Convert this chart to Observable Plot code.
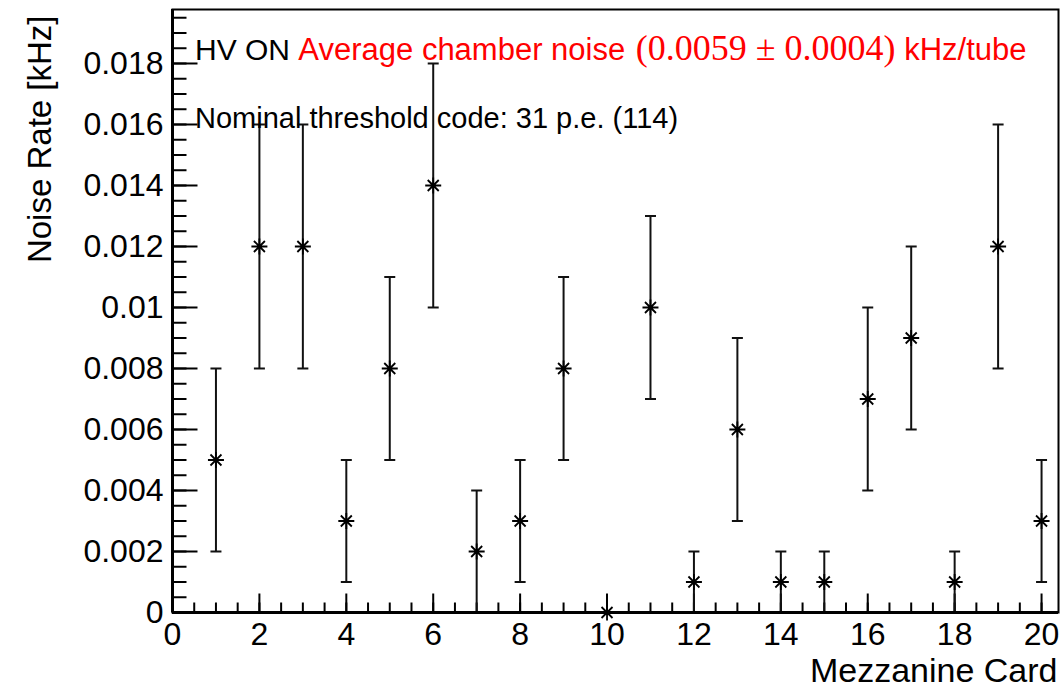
<!DOCTYPE html>
<html>
<head>
<meta charset="utf-8">
<script src="https://cdn.jsdelivr.net/npm/d3@7"></script>
<script src="https://cdn.jsdelivr.net/npm/@observablehq/plot@0.6"></script>
<style>
  html, body { margin: 0; padding: 0; background: #fff; }
</style>
</head>
<body>
<div id="chart"></div>
<script>
// Noise rate per mezzanine card, HV on
const cards = [1, 2, 3, 4, 5, 6, 7, 8, 9, 10, 11, 12, 13, 14, 15, 16, 17, 18, 19, 20];
const noiseRate = [0.005, 0.012, 0.012, 0.003, 0.008, 0.014, 0.002, 0.003, 0.008, 0.000,
                   0.010, 0.001, 0.006, 0.001, 0.001, 0.007, 0.009, 0.001, 0.012, 0.003];
const noiseErr  = [0.003, 0.004, 0.004, 0.002, 0.003, 0.004, 0.002, 0.002, 0.003, 0.000,
                   0.003, 0.001, 0.003, 0.001, 0.001, 0.003, 0.003, 0.001, 0.004, 0.002];
const averageErr = 0.0004;

const xTicks = [0, 2, 4, 6, 8, 10, 12, 14, 16, 18, 20];
const xTickLabels = ["0", "2", "4", "6", "8", "10", "12", "14", "16", "18", "20"];
const yTicks = [0, 0.002, 0.004, 0.006, 0.008, 0.010, 0.012, 0.014, 0.016, 0.018];
const yTickLabels = ["0", "0.002", "0.004", "0.006", "0.008", "0.01", "0.012", "0.014", "0.016", "0.018"];
const xMinorTicks = d3.range(0, 20.001, 0.5);
const yMinorTicks = d3.range(0, 0.01951, 0.0005);

const xTitle = "Mezzanine Card";
const yTitle = "Noise Rate [kHz]";
const thresholdNote = "Nominal threshold code: 31 p.e. (114)";

const rows = cards.map((card, i) => ({card, rate: noiseRate[i], err: noiseErr[i]}));
const withErr = rows.filter(d => d.err > 0);

const W = 1063, H = 691;
const M = {top: 9, right: 5, bottom: 79, left: 172};
const SANS = "'Liberation Sans', Arial, Helvetica, sans-serif";
const SERIF = "'Liberation Serif', 'Times New Roman', serif";

// Stroke-only symbols: inward axis ticks, error-bar caps and the star marker
const tickUp = len => ({draw(ctx) { ctx.moveTo(0, 0); ctx.lineTo(0, -len); }});
const tickRight = len => ({draw(ctx) { ctx.moveTo(0, 0); ctx.lineTo(len, 0); }});
const cap = half => ({draw(ctx) { ctx.moveTo(-half, 0); ctx.lineTo(half, 0); }});
const star = {
  draw(ctx) {
    const r = 8, d = 5.5;
    ctx.moveTo(-r, 0); ctx.lineTo(r, 0);
    ctx.moveTo(0, -r); ctx.lineTo(0, r);
    ctx.moveTo(-d, -d); ctx.lineTo(d, d);
    ctx.moveTo(-d, d); ctx.lineTo(d, -d);
  }
};

const strokeOnly = {fill: "none", stroke: "black"};

const plot = Plot.plot({
  width: W,
  height: H,
  marginTop: M.top,
  marginRight: M.right,
  marginBottom: M.bottom,
  marginLeft: M.left,
  style: {fontFamily: SANS, background: "white", overflow: "visible"},
  x: {domain: [0, 20.39]},
  y: {domain: [0, 0.01977]},
  marks: [
    // minor and major ticks pointing into the frame
    Plot.dot(xMinorTicks, {x: d => d, frameAnchor: "bottom", symbol: tickUp(10), strokeWidth: 2, ...strokeOnly}),
    Plot.dot(xTicks, {x: d => d, frameAnchor: "bottom", symbol: tickUp(19), strokeWidth: 2, ...strokeOnly}),
    Plot.dot(yMinorTicks, {y: d => d, frameAnchor: "left", symbol: tickRight(14), strokeWidth: 2, ...strokeOnly}),
    Plot.dot(yTicks, {y: d => d, frameAnchor: "left", symbol: tickRight(25), strokeWidth: 2, ...strokeOnly}),

    // tick labels
    Plot.axisX(xTicks, {
      tickSize: 0, tickPadding: 10, fontSize: 32, label: null,
      tickFormat: d => xTickLabels[xTicks.indexOf(d)]
    }),
    Plot.axisY(yTicks, {
      tickSize: 0, tickPadding: 9, fontSize: 32, label: null,
      tickFormat: d => yTickLabels[yTicks.indexOf(d)]
    }),

    // error bars with end caps
    Plot.ruleX(withErr, {x: "card", y1: d => d.rate - d.err, y2: d => d.rate + d.err, stroke: "#111", strokeWidth: 2}),
    Plot.dot(withErr, {x: "card", y: d => d.rate + d.err, symbol: cap(5.5), stroke: "#111", strokeWidth: 2, fill: "none"}),
    Plot.dot(withErr, {x: "card", y: d => d.rate - d.err, symbol: cap(5.5), stroke: "#111", strokeWidth: 2, fill: "none"}),

    // star markers
    Plot.dot(rows, {x: "card", y: "rate", symbol: star, strokeWidth: 1.8, ...strokeOnly}),
    Plot.dot(rows, {x: "card", y: "rate", r: 2, fill: "black"}),

    // frame, heavier along the axes
    Plot.frame({stroke: "black", strokeWidth: 2}),
    Plot.ruleY([0], {stroke: "black", strokeWidth: 3}),
    Plot.ruleX([0], {stroke: "black", strokeWidth: 3}),

    // axis titles
    Plot.text([yTitle], {
      text: d => d, frameAnchor: "top-left", rotate: -90,
      textAnchor: "end", lineAnchor: "middle",
      dx: 40 - M.left, dy: 6, fontSize: 33
    }),
    Plot.text([xTitle], {
      text: d => d, frameAnchor: "bottom-right",
      textAnchor: "end", lineAnchor: "middle",
      dx: -1, dy: 59, fontSize: 34
    })
  ]
});

// In-frame annotations
const svg = d3.select(plot);
const avg = d3.format(".4f")(d3.mean(noiseRate));
const errTxt = d3.format(".4f")(averageErr);

const line1 = svg.append("text")
  .attr("x", M.left + 23)
  .attr("y", M.top + 51)
  .attr("text-anchor", "start")
  .attr("font-family", SANS)
  .attr("font-size", 30);
line1.append("tspan").attr("fill", "black").text("HV ON ");
line1.append("tspan").attr("fill", "#ff0000").attr("font-size", 31).text("Average chamber noise ");
line1.append("tspan").attr("fill", "#ff0000").attr("font-family", SERIF)
  .attr("font-size", 36).attr("dx", 2)
  .text(`(${avg} \u00b1 ${errTxt})`);
line1.append("tspan").attr("fill", "#ff0000").attr("font-size", 31).text(" kHz/tube");

svg.append("text")
  .attr("x", M.left + 23)
  .attr("y", M.top + 119)
  .attr("text-anchor", "start")
  .attr("font-family", SANS)
  .attr("font-size", 29)
  .attr("fill", "black")
  .text(thresholdNote);

document.getElementById("chart").appendChild(plot);
</script>
</body>
</html>
